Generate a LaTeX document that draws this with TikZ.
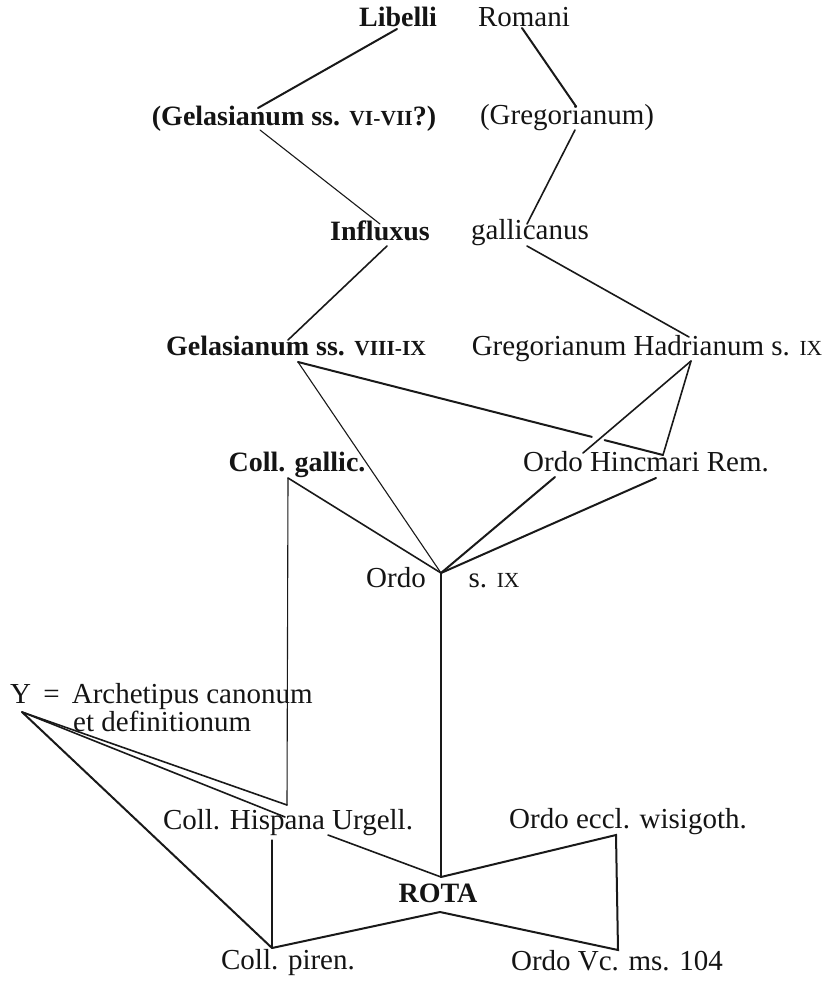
\documentclass[tikz,border=0pt]{standalone}
\usepackage{fontspec}
\setmainfont{Liberation Serif}
\usetikzlibrary{calc}
\newcommand\fsc[1]{{\fontsize{21.5}{22}\selectfont #1}}
\tikzset{
  lab/.style={inner sep=0pt, anchor=base, text=black!92, font=\fontsize{29}{31}\selectfont},
  labw/.style={lab, anchor=base west},
  bf/.style={font=\fontsize{28}{30}\selectfont\bfseries},
  ln/.style={draw=black!90, line width=1.6pt, line cap=round, line join=miter},
  lnk/.style={ln, line width=2.0pt},
  lnt/.style={ln, line width=1.1pt}
}
\begin{document}
\begin{tikzpicture}[x=1pt,y=-1pt]
\useasboundingbox (0,0) rectangle (836,981);
% labels
\node[lab,bf] (lib) at (398,27) {Libelli};
\node[lab] (rom) at (524,27) {Romani};
\node[lab,bf] (gela) at (294,126) {(Gelasianum ss. \fsc{VI-VII}?)};
\node[lab] (grea) at (567,125) {(Gregorianum)};
\node[lab,bf] (inf) at (380,241) {Influxus};
\node[lab] (gal) at (530,240) {gallicanus};
\node[lab,bf] (gelb) at (296,355) {Gelasianum ss. \fsc{VIII-IX}};
\node[lab] (greb) at (647,355) {Gregorianum Hadrianum s. \fsc{IX}};
\node[lab,bf] (cgl) at (297,471) {Coll. gallic.};
\node[lab] (hinc) at (646,471) {Ordo Hincmari Rem.};
\node[lab] (ord) at (396,587) {Ordo};
\node[lab] (six) at (494,587) {s. \fsc{IX}};
\node[labw] (arch) at (10,703) {Y\hspace{0.42em}=\hspace{0.42em}Archetipus canonum};
\node[labw] (defi) at (73,731) {et definitionum};
\node[lab] (hisp) at (288,829) {Coll. Hispana Urgell.};
\node[lab] (eccl) at (628,828) {Ordo eccl. wisigoth.};
\node[lab,bf] (rota) at (438,902) {ROTA};
\node[lab] (piren) at (288,969) {Coll. piren.};
\node[lab] (vcms) at (617,970) {Ordo Vc. ms. 104};
% connector end points
\coordinate (aLib) at (397,29);
\coordinate (aGelA) at (258,108);
\coordinate (aRom) at (522,28);
\coordinate (aGreA) at (575,105);
\coordinate (bGelA) at (260,130);
\coordinate (aInf) at (380,224);
\coordinate (bGreA) at (575,130);
\coordinate (aGal) at (527,224);
\coordinate (bInf) at (387,246);
\coordinate (aGelB) at (288,340);
\coordinate (bGal) at (527,246);
\coordinate (aGreB) at (689,337);
\coordinate (bGelB) at (298,362);
\coordinate (bGreB) at (691,361);
\coordinate (hL) at (583,453);
\coordinate (hR) at (663,455);
\coordinate (hB1) at (555,477);
\coordinate (hB2) at (656,478);
\coordinate (cg) at (288,478);
\coordinate (ordo) at (441,573);
\coordinate (cgB) at (287,805);
\coordinate (Y) at (22,712);
\coordinate (hisT) at (285,817);
\coordinate (hisB) at (272,840);
\coordinate (urg) at (328,835);
\coordinate (pir) at (272,948);
\coordinate (rotaT) at (441,877);
\coordinate (rotaB) at (440,912);
\coordinate (ecc) at (616,835);
\coordinate (vc) at (618,950);
% connectors
\draw[lnk] (aLib) -- (aGelA);
\draw[lnk] (aRom) -- (aGreA);
\draw[lnt] (bGelA) -- (aInf);
\draw[ln] (bGreA) -- (aGal);
\draw[ln] (bInf) -- (aGelB);
\draw[ln] (bGal) -- (aGreB);
\draw[lnk] (bGelB) -- ($(bGelB)!0.805!(hR)$);
\draw[lnk] ($(bGelB)!0.84!(hR)$) -- (hR);
\draw[lnt] (bGelB) -- (ordo);
\draw[ln] (bGreB) -- (hL);
\draw[ln] (bGreB) -- (hR);
\draw[ln] (cg) -- (ordo);
\draw[lnk] (hB1) -- (ordo);
\draw[lnk] (hB2) -- (ordo);
\draw[lnt] (ordo) -- (rotaT);
\draw[lnt] (cg) -- (cgB);
\draw[ln] (cgB) -- (Y);
\draw[ln] (Y) -- (hisT);
\draw[lnk] (Y) -- (pir);
\draw[lnt] (hisB) -- (pir);
\draw[ln] (urg) -- (rotaT);
\draw[lnk] (pir) -- (rotaB);
\draw[lnk] (rotaT) -- (ecc) -- (vc) -- (rotaB);
\end{tikzpicture}
\end{document}
